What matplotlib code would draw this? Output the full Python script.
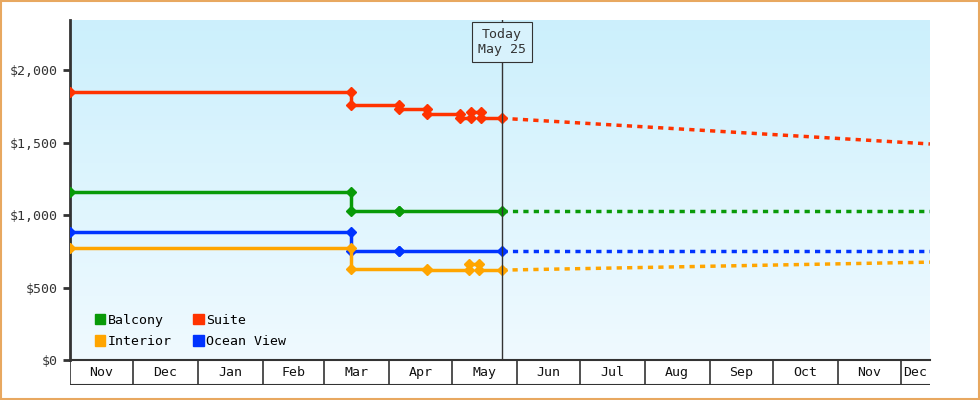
import numpy as np
import pandas as pd
import matplotlib.pyplot as plt
from matplotlib.patches import Patch

plt.rcParams['font.family'] = ['DejaVu Sans Mono']

start = pd.Timestamp('2023-11-01')
end = pd.Timestamp('2024-12-15')
today = pd.Timestamp('2024-05-25')

# price changes: (date, new price); first entry is the starting price
suite_dates = ['2023-11-01', '2024-03-14', '2024-04-06', '2024-04-19', '2024-05-05', '2024-05-10', '2024-05-15']
suite_prices = [1850, 1760, 1730, 1695, 1667, 1713, 1667]
balcony_dates = ['2023-11-01', '2024-03-14', '2024-04-06']
balcony_prices = [1160, 1030, 1025]
ocean_dates = ['2023-11-01', '2024-03-14', '2024-04-06']
ocean_prices = [885, 755, 750]
interior_dates = ['2023-11-01', '2024-03-14', '2024-04-19', '2024-05-09', '2024-05-14']
interior_prices = [775, 625, 620, 660, 620]

# forecast end values (Dec 15)
suite_fc = 1490
balcony_fc = 1025
ocean_fc = 750
interior_fc = 675

colors = {'Balcony': '#089a08', 'Suite': '#ff3300', 'Interior': '#ffa500', 'Ocean View': '#0033ff'}

fig = plt.figure(figsize=(9.8, 4), dpi=100)
fig.patch.set_facecolor('white')
ax = fig.add_axes([70/980, 40/400, 860/980, 340/400])

# gradient background
grad = np.linspace(0, 1, 256).reshape(-1, 1)
top = np.array([0.80, 0.94, 0.99])
bot = np.array([0.94, 0.98, 1.0])
img = top + (bot - top) * grad[:, :, None] * np.ones((1, 1, 3))
ax.imshow(img, extent=[0, 1, 0, 1], transform=ax.transAxes, aspect='auto', zorder=0)


def step_series(dates, prices):
    xs, ys = [], []
    d = pd.to_datetime(dates)
    for i, (dt, p) in enumerate(zip(d, prices)):
        if i > 0:
            xs.append(dt)
            ys.append(prices[i - 1])
        xs.append(dt)
        ys.append(p)
    xs.append(today)
    ys.append(prices[-1])
    return xs, ys


series = [('Suite', suite_dates, suite_prices, suite_fc),
          ('Balcony', balcony_dates, balcony_prices, balcony_fc),
          ('Ocean View', ocean_dates, ocean_prices, ocean_fc),
          ('Interior', interior_dates, interior_prices, interior_fc)]
for name, d, p, fc in series:
    xs, ys = step_series(d, p)
    c = colors[name]
    ax.plot(xs, ys, color=c, lw=2.5, marker='D', ms=5, zorder=3)
    ax.plot([today, end], [p[-1], fc], color=c, lw=2.5, ls=(0, (1.5, 1.5)), zorder=3)

ax.axvline(today, color='#333333', lw=1, zorder=4)
ax.text(today, 2195, 'Today\nMay 25', ha='center', va='center', fontsize=9.5, color='#333333',
        bbox=dict(boxstyle='square,pad=0.45', fc='#d8f2fc', ec='#333333', lw=0.8), zorder=5)

ax.set_xlim(start, end)
ax.set_ylim(0, 2345)
ax.set_yticks([0, 500, 1000, 1500, 2000])
ax.set_yticklabels(['$0', '$500', '$1,000', '$1,500', '$2,000'])
ax.tick_params(axis='y', labelsize=9.5, colors='#333333', length=5, width=2)
ax.set_xticks([])
for s in ['top', 'right']:
    ax.spines[s].set_visible(False)
ax.spines['left'].set_linewidth(2)
ax.spines['left'].set_color('#333333')
ax.spines['bottom'].set_linewidth(1.5)
ax.spines['bottom'].set_color('#333333')

# legend
handles = [Patch(color=colors[n], label=n) for n in ['Balcony', 'Interior', 'Suite', 'Ocean View']]
ax.legend(handles=handles, ncol=2, loc='lower left', bbox_to_anchor=(0.015, 0.0), frameon=False,
          fontsize=9.5, handlelength=0.8, handleheight=0.8, handletextpad=0.2, columnspacing=1.6,
          labelspacing=0.65)

# month band
mb = fig.add_axes([70/980, 15/400, 860/980, 25/400], sharex=ax)
mb.set_ylim(0, 1)
mb.axis('off')
mb.axhline(0, color='#333333', lw=1.5)
months = pd.date_range('2023-11-01', '2024-12-01', freq='MS')
for m in months:
    mb.axvline(m, color='#333333', lw=1.2)
    nxt = min(m + pd.offsets.MonthBegin(1), end)
    mid = m + (nxt - m) / 2
    mb.text(mid, 0.5, m.strftime('%b'), ha='center', va='center', fontsize=9.5, color='#111111')

# outer frame
fig.add_artist(plt.Rectangle((0.001, 0.002), 0.998, 0.996, transform=fig.transFigure,
                             fill=False, ec='#e8a860', lw=1.5))

fig.savefig('out.png', dpi=100)
